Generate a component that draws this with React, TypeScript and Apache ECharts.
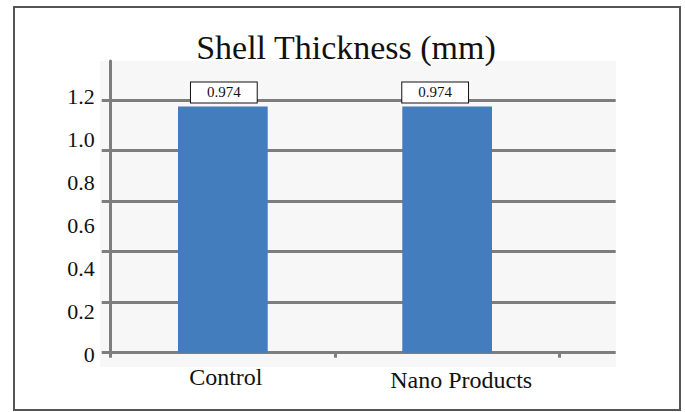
import React, { useEffect, useRef } from "react";
import * as echarts from "echarts";

const titleText = "Shell Thickness (mm)";
const categories = ["Control", "Nano Products"];
const values = [0.974, 0.974];
const labelOffsets = [[1, 0], [-12, 0]];
const categoryLabelPadTop = [0, 3];
const categoryLabelPadLeft = [6, 28];

const FONT = "Liberation Serif";
const GRID_COLOR = "#7d7d7d";

export default function App() {
  const ref = useRef<HTMLDivElement>(null);
  useEffect(() => {
    if (!ref.current) return;
    const chart = echarts.init(ref.current, undefined, { renderer: "svg" });
    const option: any = {
      animation: false,
      backgroundColor: "#ffffff",
      title: {
        text: titleText,
        left: 341,
        top: 25,
        textAlign: "center",
        textStyle: { fontFamily: FONT, fontSize: 34, fontWeight: "normal", color: "#111" },
      },
      graphic: [
        {
          type: "rect",
          z: -100,
          shape: { x: 100, y: 61, width: 516, height: 306 },
          style: { fill: "#f7f7f7" },
          silent: true,
        },
        {
          type: "rect",
          z: 100,
          shape: { x: 14, y: 7, width: 666, height: 403 },
          style: { fill: "none", stroke: "#555555", lineWidth: 2 },
          silent: true,
        },
      ],
      grid: [
        { left: 110.7, right: 125.7, top: 61, bottom: 59.3 },
        { left: 101.7, right: 69.3, top: 61, bottom: 59.3 },
        { left: 110.7, right: 125.7, top: 96.3, bottom: 58 },
      ],
      xAxis: [
        {
          type: "category",
          gridIndex: 0,
          data: categories.map((c, i) => ({
            value: c,
            textStyle: { padding: [categoryLabelPadTop[i], 0, 0, categoryLabelPadLeft[i]] },
          })),
          axisLine: { show: false },
          axisTick: { show: true, length: 5, lineStyle: { color: GRID_COLOR, width: 3 } },
          axisLabel: { fontFamily: FONT, fontSize: 24, color: "#111", margin: 12 },
          splitLine: { show: false },
        },
        { type: "value", gridIndex: 1, show: false },
        { type: "value", gridIndex: 2, show: false },
      ],
      yAxis: [
        {
          type: "value",
          gridIndex: 0,
          min: 0,
          max: 1.154,
          interval: 0.2,
          axisLine: { show: true, lineStyle: { color: GRID_COLOR, width: 3 } },
          axisTick: { show: false },
          axisLabel: { show: false },
          splitLine: { show: false },
        },
        {
          type: "value",
          gridIndex: 1,
          min: 0,
          max: 1.154,
          interval: 0.2,
          axisLine: { show: false },
          axisTick: { show: false },
          axisLabel: { show: false },
          splitLine: { show: true, showMaxLine: false, lineStyle: { color: GRID_COLOR, width: 3 } },
        },
        {
          type: "value",
          gridIndex: 2,
          min: 0,
          max: 1.2,
          interval: 0.2,
          axisLine: { show: false },
          axisTick: { show: false },
          splitLine: { show: false },
          axisLabel: {
            fontFamily: FONT,
            fontSize: 22,
            color: "#111",
            margin: 16,
            formatter: (v: number) => (v === 0 ? "0" : v.toFixed(1)),
          },
        },
      ],
      series: [
        {
          type: "bar",
          xAxisIndex: 0,
          yAxisIndex: 0,
          barWidth: "40%",
          itemStyle: { color: "#437dbd" },
          data: values.map((v, i) => ({
            value: v,
            label: { offset: labelOffsets[i] },
          })),
          label: {
            show: true,
            position: "top",
            distance: 4,
            fontFamily: FONT,
            fontSize: 15,
            lineHeight: 14,
            color: "#111",
            backgroundColor: "#ffffff",
            borderColor: "#111",
            borderWidth: 1,
            padding: [3, 16, 3, 16],
            formatter: (p: any) => p.value.toFixed(3),
          },
        },
      ],
    };
    chart.setOption(option);
    return () => chart.dispose();
  }, []);
  return (
    <div
      ref={ref}
      style={{ position: "fixed", left: 0, top: 0, width: 685, height: 412 }}
    />
  );
}
